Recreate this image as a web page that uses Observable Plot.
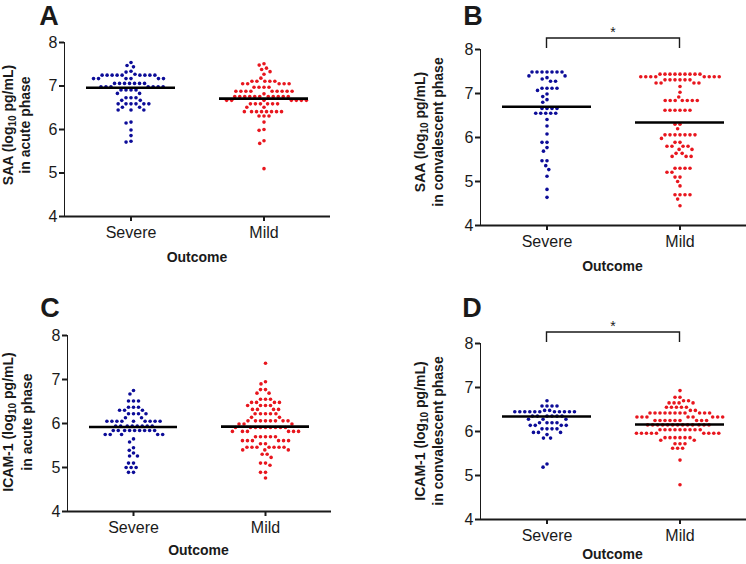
<!DOCTYPE html>
<html><head><meta charset="utf-8">
<script src="https://cdn.jsdelivr.net/npm/d3@7"></script>
<script src="https://cdn.jsdelivr.net/npm/@observablehq/plot@0.6"></script>
<style>
body{margin:0;background:#fff;}
#wrap{position:relative;width:746px;height:564px;overflow:hidden;font-family:"Liberation Sans",Arial,sans-serif;}
.panel{position:absolute;width:373px;height:282px;}
.panel svg{overflow:visible;}
.panel svg g[aria-label^="y-axis"] path,
.panel svg g[aria-label^="fx-axis"] path{stroke-width:2px;stroke:#1a1a1a;}
</style></head><body><div id="wrap"></div>
<script>
const groups = ["Severe", "Mild"];
const groupColors = ["#0c0c98", "#e8161e"];
const yTicks = [4, 5, 6, 7, 8];

// Panel A: SAA acute
const saaAcuteSevere = [7.54, 7.47, 7.44, 7.34, 7.32, 7.27,
  7.25, 7.25, 7.25, 7.25, 7.25, 7.25, 7.25, 7.25, 7.25,
  7.17, 7.17, 7.17, 7.17, 7.17, 7.17,
  7.06, 7.06, 7.06, 7.06, 7.06, 7.06, 7.06,
  6.98, 6.98, 6.98, 6.98, 6.98, 6.98, 6.98,
  6.91, 6.91, 6.91, 6.91, 6.83, 6.83,
  6.73, 6.73, 6.73, 6.67, 6.67,
  6.59, 6.59, 6.59, 6.59, 6.59, 6.59,
  6.51, 6.51, 6.45, 6.45, 6.45,
  6.17, 6.15, 5.99, 5.86, 5.73, 5.71];
const saaAcuteMild = [7.51, 7.48, 7.41, 7.38, 7.33, 7.27, 7.18,
  7.11, 7.11, 7.11, 7.11, 7.11,
  7.05, 7.05, 7.05, 7.05, 7.05,
  6.97, 6.97, 6.97, 6.97,
  6.88, 6.88, 6.88, 6.88, 6.88, 6.88, 6.88, 6.88, 6.88, 6.82,
  6.76, 6.76, 6.76, 6.76, 6.76, 6.76, 6.76, 6.76, 6.76, 6.76, 6.76,
  6.67, 6.67, 6.67, 6.67, 6.67, 6.67, 6.67,
  6.59, 6.59, 6.59, 6.59, 6.59, 6.59,
  6.51, 6.51,
  6.41, 6.41, 6.41, 6.41, 6.41, 6.41, 6.41, 6.41,
  6.31, 6.31, 6.31, 6.17, 6.00, 5.98, 5.74, 5.68, 5.10];
const saaAcuteMedian = [6.96, 6.71];

// Panel B: SAA convalescent
const saaConvSevere = [7.49, 7.49, 7.49, 7.49, 7.49, 7.49, 7.49,
  7.40, 7.40, 7.36, 7.33, 7.28, 7.28,
  7.12, 7.12, 7.12, 7.12, 7.07, 6.99, 6.93, 6.86, 6.80,
  6.66, 6.66, 6.66, 6.66,
  6.55, 6.55, 6.55, 6.55, 6.55,
  6.41, 6.26, 6.08, 5.89, 5.89, 5.77, 5.69,
  5.47, 5.47, 5.36, 5.27, 5.12, 4.82, 4.64];
const saaConvMild = [7.44, 7.44, 7.44, 7.44, 7.44, 7.44, 7.44, 7.44, 7.44,
  7.38, 7.38, 7.38, 7.38, 7.38, 7.38, 7.38, 7.38,
  7.31, 7.31, 7.31, 7.31, 7.31, 7.31,
  7.24, 7.24, 7.24, 7.24, 7.16, 7.03, 6.92,
  6.84, 6.84, 6.84, 6.84, 6.84, 6.84, 6.84,
  6.62, 6.62, 6.62, 6.62, 6.62, 6.62,
  6.30, 6.30, 6.20,
  6.06, 6.06, 6.06, 6.06, 6.06, 6.06, 6.06,
  5.98, 5.89, 5.89, 5.80, 5.80, 5.80, 5.80,
  5.73, 5.73, 5.64, 5.64, 5.57, 5.57, 5.57,
  5.30, 5.30, 5.30, 5.30, 5.21, 5.21, 5.10, 5.10, 5.00, 4.90,
  4.70, 4.70, 4.70, 4.70, 4.60, 4.45];
const saaConvMedian = [6.70, 6.34];

// Panel C: ICAM-1 acute
const icamAcuteSevere = [6.75, 6.67, 6.51, 6.51, 6.51,
  6.37, 6.37, 6.37, 6.30, 6.30, 6.30,
  6.22, 6.22, 6.22, 6.22, 6.13, 6.13,
  6.05, 6.05, 6.05, 6.05, 6.05, 6.05, 6.05, 6.05, 6.05,
  5.94, 5.94, 5.94, 5.94, 5.94, 5.94, 5.94, 5.94,
  5.84, 5.84, 5.84, 5.84, 5.84, 5.84, 5.84, 5.84, 5.84,
  5.75, 5.75, 5.75, 5.75, 5.75,
  5.65, 5.58, 5.45, 5.39, 5.33, 5.26, 5.26,
  5.10, 5.10, 5.00, 5.00, 5.00, 4.89, 4.89];
const icamAcuteMild = [7.37, 6.95, 6.90, 6.77, 6.77, 6.69, 6.69,
  6.55, 6.55, 6.55, 6.48, 6.48, 6.48, 6.48,
  6.41, 6.41, 6.41, 6.41, 6.32, 6.32, 6.32, 6.32,
  6.22, 6.22, 6.22, 6.22, 6.22, 6.14, 6.14,
  6.06, 6.06, 6.06, 6.06, 6.06, 6.06, 6.06, 6.06,
  5.99, 5.99, 5.99,
  5.91, 5.91, 5.91, 5.91, 5.91, 5.91, 5.91, 5.91, 5.91,
  5.82, 5.82, 5.82, 5.82, 5.82, 5.82,
  5.70, 5.70, 5.70, 5.70, 5.70,
  5.61, 5.61, 5.61, 5.61, 5.61, 5.61, 5.54, 5.54,
  5.46, 5.46, 5.46, 5.46, 5.46, 5.46, 5.46,
  5.40, 5.40, 5.40, 5.30, 5.30, 5.23, 5.10, 5.10, 5.05,
  4.89, 4.89, 4.76];
const icamAcuteMedian = [5.92, 5.93];

// Panel D: ICAM-1 convalescent
const icamConvSevere = [6.70, 6.58, 6.58, 6.58, 6.58, 6.48, 6.48,
  6.45, 6.45, 6.45, 6.45, 6.45, 6.45, 6.45, 6.45, 6.45, 6.45, 6.45,
  6.35, 6.35, 6.35, 6.35, 6.35, 6.35, 6.28, 6.28, 6.28,
  6.20, 6.20, 6.20, 6.20, 6.14, 6.14, 6.14, 6.14,
  6.06, 6.06, 6.06, 6.06, 5.98, 5.98, 5.98, 5.93, 5.85, 5.85,
  5.26, 5.19];
const icamConvMild = [6.93, 6.78, 6.78, 6.70, 6.70, 6.65, 6.65, 6.65, 6.65,
  6.55, 6.55, 6.55, 6.55, 6.55, 6.48, 6.48,
  6.42, 6.42, 6.42, 6.42, 6.42, 6.42, 6.42, 6.42, 6.42, 6.42, 6.42,
  6.33, 6.33, 6.33, 6.33, 6.33, 6.33, 6.33, 6.33,
  6.25, 6.25, 6.25, 6.25, 6.25, 6.25, 6.25, 6.25, 6.25,
  6.15, 6.15, 6.15, 6.15, 6.15, 6.15, 6.15, 6.15, 6.15, 6.15, 6.15, 6.15, 6.15,
  6.04, 6.04, 6.04, 6.04, 6.04, 6.04, 6.04, 6.04, 6.04,
  5.96, 5.96, 5.96, 5.96, 5.96, 5.96, 5.96, 5.96, 5.96,
  5.86, 5.86, 5.86, 5.86, 5.86, 5.86, 5.80, 5.80,
  5.72, 5.72, 5.72, 5.62, 5.62, 5.62, 5.35, 4.79];
const icamConvMedian = [6.34, 6.16];

const panels = [
  {letter: "A", analyte: "SAA", phase: "in acute phase", severe: saaAcuteSevere, mild: saaAcuteMild, medians: saaAcuteMedian, sig: false,
   pos: [0, 0], m: {l: 64, t: 42, b: 66, r: 43}, letterAt: [49, 25], labX: [8, 25], labY: 125, outY: 262},
  {letter: "B", analyte: "SAA", phase: "in convalescent phase", severe: saaConvSevere, mild: saaConvMild, medians: saaConvMedian, sig: true,
   pos: [373, 0], m: {l: 106, t: 49, b: 57, r: 0}, letterAt: [100, 25], labX: [47, 65], labY: 132, outY: 271},
  {letter: "C", analyte: "ICAM-1", phase: "in acute phase", severe: icamAcuteSevere, mild: icamAcuteMild, medians: icamAcuteMedian, sig: false,
   pos: [0, 282], m: {l: 66, t: 53, b: 53, r: 42}, letterAt: [50, 35], labX: [8, 27], labY: 140, outY: 273},
  {letter: "D", analyte: "ICAM-1", phase: "in convalescent phase", severe: icamConvSevere, mild: icamConvMild, medians: icamConvMedian, sig: true,
   pos: [373, 282], m: {l: 106, t: 61, b: 45, r: 0}, letterAt: [99, 35], labX: [47, 65], labY: 149, outY: 277}
];

const wrap = document.getElementById("wrap");
const FONT = "Liberation Sans, Arial, Helvetica, sans-serif";

for (const p of panels) {
  const rows = [
    ...p.severe.map(v => ({group: groups[0], value: v})),
    ...p.mild.map(v => ({group: groups[1], value: v}))
  ];
  const med = groups.map((g, i) => ({group: g, value: p.medians[i]}));
  const plot = Plot.plot({
    width: 373, height: 282,
    marginLeft: p.m.l, marginTop: p.m.t, marginBottom: p.m.b, marginRight: p.m.r,
    style: {fontFamily: FONT, fontSize: "16px", color: "#1a1a1a", background: "transparent", overflow: "visible"},
    fx: {domain: groups, padding: 0, axis: "bottom", label: null, tickSize: 5, tickPadding: 5},
    y: {domain: [4, 8], ticks: yTicks, tickFormat: d3.format("d"), tickSize: 5, tickPadding: 2, label: null, line: true},
    color: {domain: groups, range: groupColors},
    marks: [
      Plot.ruleY([4], {stroke: "#1a1a1a", strokeWidth: 2}),
      Plot.dot(rows, Plot.dodgeX({anchor: "middle", padding: 1.4}, {fx: "group", y: "value", r: 1.8, fill: "group"})),
      Plot.ruleY(med, {fx: "group", y: "value", stroke: "#000", strokeWidth: 2.6, insetLeft: 22, insetRight: 22})
    ]
  });
  const div = document.createElement("div");
  div.className = "panel";
  div.style.left = p.pos[0] + "px";
  div.style.top = p.pos[1] + "px";
  div.appendChild(plot);
  wrap.appendChild(div);

  const svg = d3.select(plot.tagName.toLowerCase() === "svg" ? plot : plot.querySelector("svg"));
  const g = svg.append("g").attr("font-family", FONT).attr("fill", "#1a1a1a");

  // panel letter
  g.append("text").attr("x", p.letterAt[0]).attr("y", p.letterAt[1])
    .attr("font-size", 27).attr("font-weight", "bold").text(p.letter);

  // y label (two lines, rotated)
  const l1 = g.append("text").attr("transform", `translate(${p.labX[0]},${p.labY}) rotate(-90)`)
    .attr("text-anchor", "middle").attr("dominant-baseline", "central")
    .attr("font-size", 14).attr("font-weight", "bold");
  l1.append("tspan").text(p.analyte + " (log");
  l1.append("tspan").attr("font-size", 10).attr("dy", 4).text("10");
  l1.append("tspan").attr("dy", -4).text(" pg/mL)");
  g.append("text").attr("transform", `translate(${p.labX[1]},${p.labY}) rotate(-90)`)
    .attr("text-anchor", "middle").attr("dominant-baseline", "central")
    .attr("font-size", 14).attr("font-weight", "bold").text(p.phase);

  // x label
  const fx = plot.scale("fx");
  const centers = groups.map(d => fx.apply(d) + fx.bandwidth / 2);
  const frameL = p.m.l, frameR = 373 - p.m.r;
  g.append("text").attr("x", (frameL + frameR) / 2).attr("y", p.outY)
    .attr("text-anchor", "middle").attr("font-size", 14).attr("font-weight", "bold").text("Outcome");

  // significance bracket
  if (p.sig) {
    const yb = p.m.t - 11, yt = p.m.t - 1;
    g.append("path").attr("fill", "none").attr("stroke", "#1a1a1a").attr("stroke-width", 1.4)
      .attr("d", `M${centers[0]},${yt}V${yb}H${centers[1]}V${yt}`);
    g.append("text").attr("x", (centers[0] + centers[1]) / 2).attr("y", yb - 1)
      .attr("text-anchor", "middle").attr("font-size", 14).text("*");
  }
}
</script></body></html>
